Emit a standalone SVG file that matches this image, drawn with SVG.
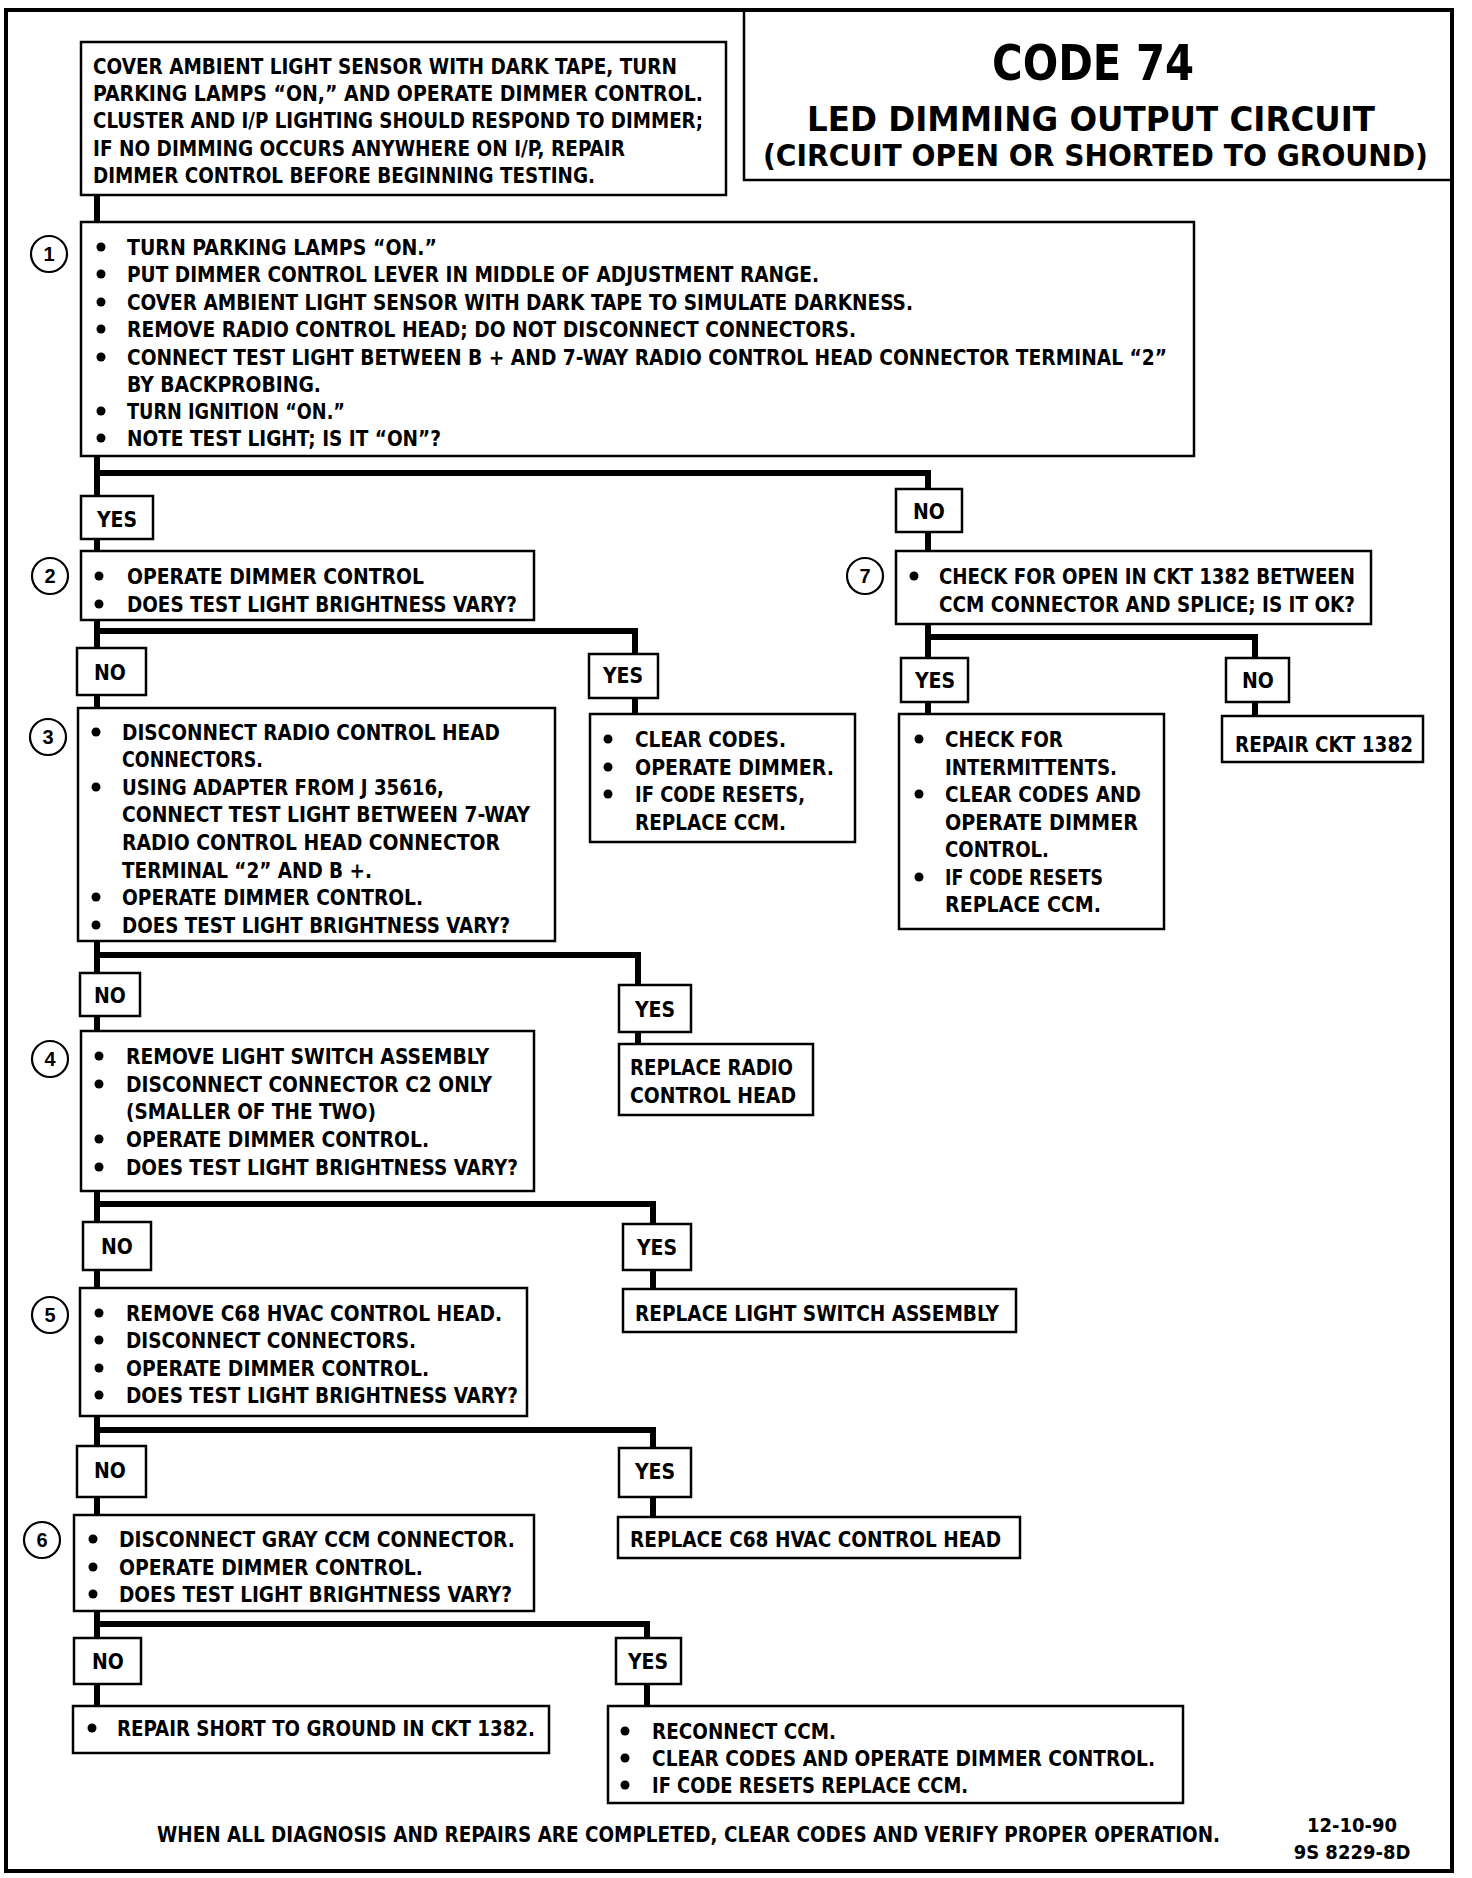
<svg xmlns="http://www.w3.org/2000/svg" width="1472" height="1878" viewBox="0 0 1472 1878">
<style>
.box{fill:#fff;stroke:#000;stroke-width:2.5}
.frame{fill:none;stroke:#000;stroke-width:4}
.t{font-family:"Liberation Sans Narrow","DejaVu Sans Condensed","Liberation Sans",Arial,sans-serif;font-weight:700;font-size:21px;fill:#000}
.c{text-anchor:middle}
.num{font-family:"Liberation Sans","DejaVu Sans",sans-serif;font-weight:700;font-size:20px;text-anchor:middle;fill:#000}
.circ{fill:#fff;stroke:#000;stroke-width:2.2}
.conn{fill:none;stroke:#000;stroke-width:6;stroke-linejoin:miter;stroke-linecap:butt}
.dot{fill:#000}
</style>
<rect width="1472" height="1878" fill="#fff"/>
<rect class="frame" x="6" y="10" width="1446" height="1861"/>

<g id="title">
<rect class="frame" x="744" y="10" width="708" height="170" style="stroke-width:2.5"/>
<text class="t" x="992" y="80" textLength="202" lengthAdjust="spacingAndGlyphs" style="font-size:50px">CODE 74</text>
<text class="t" x="807" y="131" textLength="568" lengthAdjust="spacingAndGlyphs" style="font-size:33px">LED DIMMING OUTPUT CIRCUIT</text>
<text class="t" x="763" y="166" textLength="665" lengthAdjust="spacingAndGlyphs" style="font-size:30px">(CIRCUIT OPEN OR SHORTED TO  GROUND)</text>
</g>

<g id="connectors">
<polyline class="conn" points="97,195 97,222"/>
<polyline class="conn" points="97,456 97,496"/>
<polyline class="conn" points="94,473 928,473 928,489"/>
<polyline class="conn" points="97,539 97,551"/>
<polyline class="conn" points="928,532 928,551"/>
<polyline class="conn" points="928,624 928,658"/>
<polyline class="conn" points="925,637 1255,637 1255,658"/>
<polyline class="conn" points="928,702 928,714"/>
<polyline class="conn" points="1255,702 1255,716"/>
<polyline class="conn" points="97,620 97,648"/>
<polyline class="conn" points="94,631 635,631 635,654"/>
<polyline class="conn" points="97,695 97,708"/>
<polyline class="conn" points="635,698 635,714"/>
<polyline class="conn" points="97,941 97,973"/>
<polyline class="conn" points="94,955 638,955 638,985"/>
<polyline class="conn" points="97,1016 97,1031"/>
<polyline class="conn" points="638,1032 638,1044"/>
<polyline class="conn" points="97,1191 97,1222"/>
<polyline class="conn" points="94,1204 653,1204 653,1224"/>
<polyline class="conn" points="97,1270 97,1288"/>
<polyline class="conn" points="653,1270 653,1289"/>
<polyline class="conn" points="97,1416 97,1446"/>
<polyline class="conn" points="94,1430 653,1430 653,1448"/>
<polyline class="conn" points="97,1497 97,1515"/>
<polyline class="conn" points="653,1497 653,1517"/>
<polyline class="conn" points="97,1611 97,1638"/>
<polyline class="conn" points="94,1624 647,1624 647,1638"/>
<polyline class="conn" points="97,1684 97,1706"/>
<polyline class="conn" points="647,1684 647,1706"/>
</g>

<g id="intro">
<rect class="box" x="81" y="42" width="645" height="153"/>
<text class="t" x="93" y="74" textLength="584" lengthAdjust="spacingAndGlyphs">COVER AMBIENT LIGHT SENSOR WITH DARK TAPE, TURN</text>
<text class="t" x="93" y="101" textLength="610" lengthAdjust="spacingAndGlyphs">PARKING LAMPS “ON,” AND OPERATE DIMMER CONTROL.</text>
<text class="t" x="93" y="128" textLength="610" lengthAdjust="spacingAndGlyphs">CLUSTER AND I/P LIGHTING SHOULD RESPOND TO DIMMER;</text>
<text class="t" x="93" y="156" textLength="532" lengthAdjust="spacingAndGlyphs">IF NO DIMMING OCCURS ANYWHERE ON I/P, REPAIR</text>
<text class="t" x="93" y="183" textLength="502" lengthAdjust="spacingAndGlyphs">DIMMER CONTROL BEFORE BEGINNING TESTING.</text>
</g>

<g id="step1">
<rect class="box" x="81" y="222" width="1113" height="234"/>
<circle class="circ" cx="49" cy="254" r="18"/><text class="num" x="49" y="261">1</text>
<circle class="dot" cx="101" cy="247" r="4.5"/>
<circle class="dot" cx="101" cy="274" r="4.5"/>
<circle class="dot" cx="101" cy="302" r="4.5"/>
<circle class="dot" cx="101" cy="329" r="4.5"/>
<circle class="dot" cx="101" cy="357" r="4.5"/>
<circle class="dot" cx="101" cy="411" r="4.5"/>
<circle class="dot" cx="101" cy="438" r="4.5"/>
<text class="t" x="127" y="255" textLength="310" lengthAdjust="spacingAndGlyphs">TURN PARKING LAMPS “ON.”</text>
<text class="t" x="127" y="282" textLength="692" lengthAdjust="spacingAndGlyphs">PUT DIMMER CONTROL LEVER IN MIDDLE OF ADJUSTMENT RANGE.</text>
<text class="t" x="127" y="310" textLength="786" lengthAdjust="spacingAndGlyphs">COVER AMBIENT LIGHT SENSOR WITH DARK TAPE TO SIMULATE DARKNESS.</text>
<text class="t" x="127" y="337" textLength="729" lengthAdjust="spacingAndGlyphs">REMOVE RADIO CONTROL HEAD; DO NOT DISCONNECT CONNECTORS.</text>
<text class="t" x="127" y="365" textLength="1040" lengthAdjust="spacingAndGlyphs">CONNECT TEST LIGHT BETWEEN B +  AND 7-WAY RADIO CONTROL HEAD CONNECTOR TERMINAL “2”</text>
<text class="t" x="127" y="392" textLength="194" lengthAdjust="spacingAndGlyphs">BY BACKPROBING.</text>
<text class="t" x="127" y="419" textLength="218" lengthAdjust="spacingAndGlyphs">TURN IGNITION “ON.”</text>
<text class="t" x="127" y="446" textLength="314" lengthAdjust="spacingAndGlyphs">NOTE  TEST LIGHT; IS IT “ON”?</text>
</g>

<g id="yes1"><rect class="box" x="81" y="496" width="72" height="43"/><text class="t c" x="117" y="527">YES</text></g>
<g id="no1"><rect class="box" x="896" y="489" width="66" height="43"/><text class="t c" x="929" y="519">NO</text></g>

<g id="step2">
<rect class="box" x="81" y="551" width="453" height="69"/>
<circle class="circ" cx="50" cy="576" r="18"/><text class="num" x="50" y="583">2</text>
<circle class="dot" cx="99" cy="576" r="4.5"/>
<circle class="dot" cx="99" cy="604" r="4.5"/>
<text class="t" x="127" y="584" textLength="297" lengthAdjust="spacingAndGlyphs">OPERATE DIMMER CONTROL</text>
<text class="t" x="127" y="612" textLength="390" lengthAdjust="spacingAndGlyphs">DOES TEST LIGHT BRIGHTNESS VARY?</text>
</g>

<g id="step7">
<rect class="box" x="896" y="551" width="475" height="73"/>
<circle class="circ" cx="865" cy="576" r="18"/><text class="num" x="865" y="583">7</text>
<circle class="dot" cx="914" cy="576" r="4.5"/>
<text class="t" x="939" y="584" textLength="416" lengthAdjust="spacingAndGlyphs">CHECK FOR OPEN IN CKT 1382 BETWEEN</text>
<text class="t" x="939" y="612" textLength="416" lengthAdjust="spacingAndGlyphs">CCM CONNECTOR AND SPLICE; IS IT OK?</text>
</g>

<g id="yes7"><rect class="box" x="901" y="658" width="67" height="44"/><text class="t c" x="935" y="688">YES</text></g>
<g id="no7"><rect class="box" x="1226" y="658" width="63" height="44"/><text class="t c" x="1258" y="688">NO</text></g>

<g id="intermittents">
<rect class="box" x="899" y="714" width="265" height="215"/>
<circle class="dot" cx="919" cy="739" r="4.5"/>
<circle class="dot" cx="919" cy="794" r="4.5"/>
<circle class="dot" cx="919" cy="877" r="4.5"/>
<text class="t" x="945" y="747" textLength="118" lengthAdjust="spacingAndGlyphs">CHECK FOR</text>
<text class="t" x="945" y="775" textLength="172" lengthAdjust="spacingAndGlyphs">INTERMITTENTS.</text>
<text class="t" x="945" y="802" textLength="196" lengthAdjust="spacingAndGlyphs">CLEAR CODES AND</text>
<text class="t" x="945" y="830" textLength="193" lengthAdjust="spacingAndGlyphs">OPERATE DIMMER</text>
<text class="t" x="945" y="857" textLength="104" lengthAdjust="spacingAndGlyphs">CONTROL.</text>
<text class="t" x="945" y="885" textLength="158" lengthAdjust="spacingAndGlyphs">IF CODE RESETS</text>
<text class="t" x="945" y="912" textLength="156" lengthAdjust="spacingAndGlyphs">REPLACE CCM.</text>
</g>

<g id="repair1382">
<rect class="box" x="1222" y="716" width="201" height="46"/>
<text class="t" x="1235" y="752" textLength="178" lengthAdjust="spacingAndGlyphs">REPAIR CKT 1382</text>
</g>

<g id="no2"><rect class="box" x="77" y="648" width="69" height="47"/><text class="t c" x="110" y="680">NO</text></g>
<g id="yes2"><rect class="box" x="589" y="654" width="69" height="44"/><text class="t c" x="623" y="683">YES</text></g>

<g id="step3">
<rect class="box" x="78" y="708" width="477" height="233"/>
<circle class="circ" cx="48" cy="737" r="18"/><text class="num" x="48" y="744">3</text>
<circle class="dot" cx="96" cy="732" r="4.5"/>
<circle class="dot" cx="96" cy="787" r="4.5"/>
<circle class="dot" cx="96" cy="897" r="4.5"/>
<circle class="dot" cx="96" cy="925" r="4.5"/>
<text class="t" x="122" y="740" textLength="378" lengthAdjust="spacingAndGlyphs">DISCONNECT RADIO CONTROL HEAD</text>
<text class="t" x="122" y="767" textLength="141" lengthAdjust="spacingAndGlyphs">CONNECTORS.</text>
<text class="t" x="122" y="795" textLength="322" lengthAdjust="spacingAndGlyphs">USING ADAPTER FROM J 35616,</text>
<text class="t" x="122" y="822" textLength="408" lengthAdjust="spacingAndGlyphs">CONNECT TEST LIGHT BETWEEN  7-WAY</text>
<text class="t" x="122" y="850" textLength="378" lengthAdjust="spacingAndGlyphs">RADIO CONTROL HEAD  CONNECTOR</text>
<text class="t" x="122" y="878" textLength="250" lengthAdjust="spacingAndGlyphs">TERMINAL “2” AND B +.</text>
<text class="t" x="122" y="905" textLength="301" lengthAdjust="spacingAndGlyphs">OPERATE DIMMER CONTROL.</text>
<text class="t" x="122" y="933" textLength="388" lengthAdjust="spacingAndGlyphs">DOES TEST LIGHT BRIGHTNESS VARY?</text>
</g>

<g id="clearcodes">
<rect class="box" x="590" y="714" width="265" height="128"/>
<circle class="dot" cx="608" cy="739" r="4.5"/>
<circle class="dot" cx="608" cy="767" r="4.5"/>
<circle class="dot" cx="608" cy="794" r="4.5"/>
<text class="t" x="635" y="747" textLength="151" lengthAdjust="spacingAndGlyphs">CLEAR CODES.</text>
<text class="t" x="635" y="775" textLength="199" lengthAdjust="spacingAndGlyphs">OPERATE DIMMER.</text>
<text class="t" x="635" y="802" textLength="170" lengthAdjust="spacingAndGlyphs">IF CODE RESETS,</text>
<text class="t" x="635" y="830" textLength="151" lengthAdjust="spacingAndGlyphs">REPLACE CCM.</text>
</g>

<g id="no3"><rect class="box" x="80" y="973" width="60" height="43"/><text class="t c" x="110" y="1003">NO</text></g>
<g id="yes3"><rect class="box" x="619" y="985" width="72" height="47"/><text class="t c" x="655" y="1017">YES</text></g>

<g id="replaceradio">
<rect class="box" x="619" y="1044" width="194" height="71"/>
<text class="t" x="630" y="1075" textLength="163" lengthAdjust="spacingAndGlyphs">REPLACE RADIO</text>
<text class="t" x="630" y="1103" textLength="166" lengthAdjust="spacingAndGlyphs">CONTROL HEAD</text>
</g>

<g id="step4">
<rect class="box" x="81" y="1031" width="453" height="160"/>
<circle class="circ" cx="50" cy="1059" r="18"/><text class="num" x="50" y="1066">4</text>
<circle class="dot" cx="99" cy="1056" r="4.5"/>
<circle class="dot" cx="99" cy="1084" r="4.5"/>
<circle class="dot" cx="99" cy="1139" r="4.5"/>
<circle class="dot" cx="99" cy="1167" r="4.5"/>
<text class="t" x="126" y="1064" textLength="363" lengthAdjust="spacingAndGlyphs">REMOVE LIGHT SWITCH ASSEMBLY</text>
<text class="t" x="126" y="1092" textLength="366" lengthAdjust="spacingAndGlyphs">DISCONNECT CONNECTOR C2 ONLY</text>
<text class="t" x="126" y="1119" textLength="250" lengthAdjust="spacingAndGlyphs">(SMALLER OF THE TWO)</text>
<text class="t" x="126" y="1147" textLength="303" lengthAdjust="spacingAndGlyphs">OPERATE DIMMER CONTROL.</text>
<text class="t" x="126" y="1175" textLength="392" lengthAdjust="spacingAndGlyphs">DOES TEST LIGHT BRIGHTNESS VARY?</text>
</g>

<g id="no4"><rect class="box" x="83" y="1222" width="68" height="48"/><text class="t c" x="117" y="1254">NO</text></g>
<g id="yes4"><rect class="box" x="623" y="1224" width="68" height="46"/><text class="t c" x="657" y="1255">YES</text></g>

<g id="replaceswitch">
<rect class="box" x="623" y="1289" width="393" height="43"/>
<text class="t" x="635" y="1321" textLength="364" lengthAdjust="spacingAndGlyphs">REPLACE LIGHT SWITCH ASSEMBLY</text>
</g>

<g id="step5">
<rect class="box" x="80" y="1288" width="447" height="128"/>
<circle class="circ" cx="50" cy="1315" r="18"/><text class="num" x="50" y="1322">5</text>
<circle class="dot" cx="99" cy="1313" r="4.5"/>
<circle class="dot" cx="99" cy="1340" r="4.5"/>
<circle class="dot" cx="99" cy="1368" r="4.5"/>
<circle class="dot" cx="99" cy="1395" r="4.5"/>
<text class="t" x="126" y="1321" textLength="376" lengthAdjust="spacingAndGlyphs">REMOVE C68 HVAC CONTROL HEAD.</text>
<text class="t" x="126" y="1348" textLength="290" lengthAdjust="spacingAndGlyphs">DISCONNECT CONNECTORS.</text>
<text class="t" x="126" y="1376" textLength="303" lengthAdjust="spacingAndGlyphs">OPERATE DIMMER CONTROL.</text>
<text class="t" x="126" y="1403" textLength="392" lengthAdjust="spacingAndGlyphs">DOES TEST LIGHT BRIGHTNESS VARY?</text>
</g>

<g id="no5"><rect class="box" x="77" y="1446" width="69" height="51"/><text class="t c" x="110" y="1478">NO</text></g>
<g id="yes5"><rect class="box" x="619" y="1448" width="72" height="49"/><text class="t c" x="655" y="1479">YES</text></g>

<g id="replacehvac">
<rect class="box" x="618" y="1517" width="402" height="41"/>
<text class="t" x="630" y="1547" textLength="371" lengthAdjust="spacingAndGlyphs">REPLACE C68 HVAC CONTROL HEAD</text>
</g>

<g id="step6">
<rect class="box" x="74" y="1515" width="460" height="96"/>
<circle class="circ" cx="42" cy="1540" r="18"/><text class="num" x="42" y="1547">6</text>
<circle class="dot" cx="93" cy="1539" r="4.5"/>
<circle class="dot" cx="93" cy="1567" r="4.5"/>
<circle class="dot" cx="93" cy="1594" r="4.5"/>
<text class="t" x="119" y="1547" textLength="396" lengthAdjust="spacingAndGlyphs">DISCONNECT GRAY CCM CONNECTOR.</text>
<text class="t" x="119" y="1575" textLength="304" lengthAdjust="spacingAndGlyphs">OPERATE DIMMER CONTROL.</text>
<text class="t" x="119" y="1602" textLength="393" lengthAdjust="spacingAndGlyphs">DOES TEST LIGHT BRIGHTNESS VARY?</text>
</g>

<g id="no6"><rect class="box" x="74" y="1638" width="67" height="46"/><text class="t c" x="108" y="1669">NO</text></g>
<g id="yes6"><rect class="box" x="616" y="1638" width="65" height="46"/><text class="t c" x="648" y="1669">YES</text></g>

<g id="repairshort">
<rect class="box" x="73" y="1706" width="476" height="47"/>
<circle class="dot" cx="92" cy="1728" r="4.5"/>
<text class="t" x="117" y="1736" textLength="418" lengthAdjust="spacingAndGlyphs">REPAIR SHORT TO GROUND IN CKT 1382.</text>
</g>

<g id="reconnect">
<rect class="box" x="608" y="1706" width="575" height="97"/>
<circle class="dot" cx="625" cy="1731" r="4.5"/>
<circle class="dot" cx="625" cy="1758" r="4.5"/>
<circle class="dot" cx="625" cy="1785" r="4.5"/>
<text class="t" x="652" y="1739" textLength="184" lengthAdjust="spacingAndGlyphs">RECONNECT CCM.</text>
<text class="t" x="652" y="1766" textLength="503" lengthAdjust="spacingAndGlyphs">CLEAR CODES AND OPERATE DIMMER CONTROL.</text>
<text class="t" x="652" y="1793" textLength="316" lengthAdjust="spacingAndGlyphs">IF CODE RESETS REPLACE CCM.</text>
</g>

<g id="footer">
<text class="t" x="157" y="1842" textLength="1063" lengthAdjust="spacingAndGlyphs">WHEN ALL DIAGNOSIS AND REPAIRS ARE COMPLETED, CLEAR CODES AND VERIFY PROPER OPERATION.</text>
<text class="t c" x="1352" y="1832" style="font-size:20px">12-10-90</text>
<text class="t c" x="1352" y="1859" style="font-size:20px">9S 8229-8D</text>
</g>
</svg>
